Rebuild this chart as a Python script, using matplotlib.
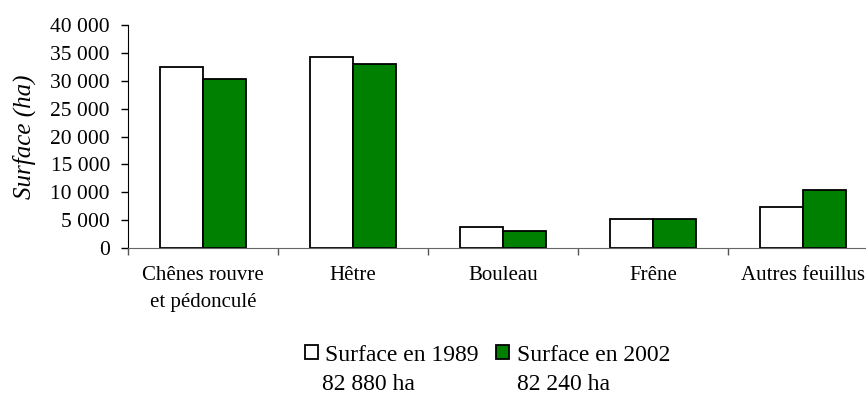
import matplotlib
matplotlib.use("Agg")
import matplotlib.pyplot as plt
from matplotlib.patches import Patch
from matplotlib.ticker import FuncFormatter, FixedLocator
import numpy as np

# surfaces par essence (ha)
essences = ["Chênes rouvre\net pédonculé", "Hêtre", "Bouleau", "Frêne", "Autres feuillus"]
surface_1989 = [32500, 34200, 3800, 5200, 7350]
surface_2002 = [30300, 33050, 3100, 5200, 10400]
legende = ["Surface en 1989", "Surface en 2002"]
totaux = ["82 880 ha", "82 240 ha"]

plt.rcParams['font.family'] = ['Liberation Serif', 'DejaVu Serif']

fig = plt.figure(figsize=(8.66, 3.96), dpi=100)
ax = fig.add_axes([0.1478, 0.3737, 0.866, 0.5631])

x = np.arange(len(essences))
w = 0.285
ax.bar(x - w / 2, surface_1989, w, color="white", edgecolor="black", linewidth=1.3)
ax.bar(x + w / 2, surface_2002, w, color="#008000", edgecolor="black", linewidth=1.3)

ax.set_xlim(-0.5, len(essences) - 0.5)
ax.set_ylim(0, 40000)
ax.set_yticks(np.arange(0, 40001, 5000))
ax.yaxis.set_major_formatter(FuncFormatter(lambda v, p: f"{int(v):,}".replace(",", " ")))

# graduations entre les catégories, étiquettes au centre
ax.xaxis.set_major_locator(FixedLocator(np.arange(len(essences) + 1) - 0.5))
ax.xaxis.set_minor_locator(FixedLocator(x))
ax.set_xticklabels([])
ax.set_xticklabels(essences, minor=True, fontsize=15, linespacing=1.55, va="top")
ax.tick_params(axis="x", which="minor", length=0, pad=13)
ax.tick_params(axis="x", which="major", length=5, width=1, color="#555555")
ax.tick_params(axis="y", length=5, width=1, labelsize=15.5, pad=8)

for s in ["top", "right"]:
    ax.spines[s].set_visible(False)
ax.spines["bottom"].set_color("#666666")
ax.spines["left"].set_color("black")

ax.set_ylabel("Surface (ha)", fontsize=18, style="italic")
ax.yaxis.set_label_coords(-0.123, 0.5)

handles = [Patch(facecolor="white", edgecolor="black", linewidth=1.3),
           Patch(facecolor="#008000", edgecolor="black", linewidth=1.3)]
fig.legend(handles, legende, ncol=2, loc="center", bbox_to_anchor=(0.563, 0.1035),
           frameon=False, fontsize=17, handlelength=0.55, handleheight=0.55,
           handletextpad=0.3, columnspacing=0.75, borderpad=0)
fig.text(322 / 866, 0.028, totaux[0], fontsize=17, va="center", ha="left")
fig.text(517 / 866, 0.028, totaux[1], fontsize=17, va="center", ha="left")

fig.savefig("out.png", dpi=100)
